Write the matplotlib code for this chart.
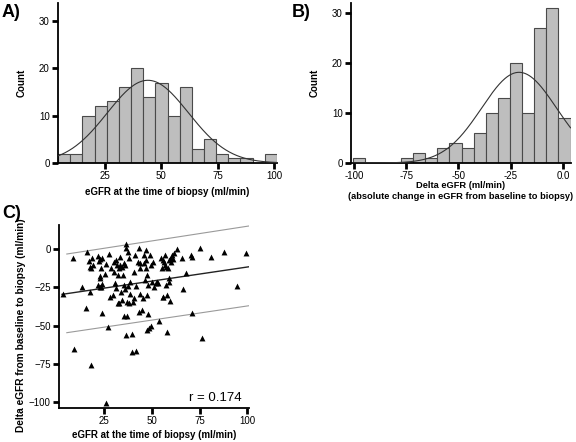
import matplotlib.pyplot as plt
import numpy as np

plt.rcParams['font.family'] = ['Liberation Sans', 'DejaVu Sans']

# panel A: eGFR at biopsy histogram
a_counts = [2, 2, 10, 12, 13, 16, 20, 14, 17, 10, 16, 3, 5, 2, 1, 1, 0, 2]
a_bin_start = 4.1
a_bin_width = 5.4
a_mean, a_sd = 44.0, 18.0

# panel B: delta eGFR histogram
b_counts = [1, 0, 0, 0, 1, 2, 1, 3, 4, 3, 6, 10, 13, 20, 10, 27, 31, 9]
b_bin_start = -100.6
b_bin_width = 5.79
b_mean, b_sd = -21.0, 17.9

# panel C: scatter of eGFR vs delta eGFR
c_x = [3.5, 8.5, 9.3, 13.2, 15.3, 15.8, 16.7, 17.3, 17.6, 18.0, 18.5, 18.1, 19.0,
       21.5, 21.8, 22.2, 22.7, 23.2, 22.9, 23.4, 23.8, 22.9, 22.5, 24.0, 23.8, 25.2,
       26.0, 26.8, 25.7, 27.3, 28.2, 28.7, 29.6, 30.0, 30.3, 30.5, 31.2, 31.7, 31.3,
       32.0, 32.2, 32.6, 32.7, 33.1, 33.5, 33.8, 34.2, 34.5, 34.9, 35.2, 35.6, 35.7,
       35.4, 35.9, 36.3, 36.6, 37.0, 37.0, 36.6, 37.3, 37.7, 38.0, 38.4, 37.9, 38.7,
       39.3, 39.8, 40.1, 40.5, 40.8, 41.2, 41.5, 41.9, 42.6, 43.1, 43.1, 43.7, 44.0,
       44.0, 44.9, 45.4, 45.8, 46.1, 46.3, 46.7, 46.8, 47.0, 47.4, 47.5, 47.9, 48.2,
       47.5, 48.4, 48.9, 49.3, 49.6, 50.2, 50.7, 51.1, 51.9, 52.8, 53.3, 53.9, 54.6,
       55.3, 55.6, 55.8, 56.0, 56.3, 56.7, 56.9, 57.2, 57.4, 57.7, 58.1, 58.5, 58.8,
       59.0, 59.2, 59.5, 59.5, 59.9, 60.2, 60.7, 61.3, 61.6, 63.4, 65.7, 66.5, 67.8,
       70.4, 71.0, 70.8, 75.4, 76.4, 81.3, 88.0, 94.5, 99.5]
c_y = [-29.5, -5.5, -65.5, -24.5, -38.6, -2.0, -7.6, -27.7, -11.4, -76.0, -5.5, -12.4, -10.3,
       -4.1, -23.4, -7.6, -6.6, -12.4, -19.0, -24.5, -41.5, -17.2, -24.5, -5.5, -22.7, -16.4,
       -9.8, -50.7, -100.9, -3.3, -31.0, -12.4, -29.9, -8.0, -14.6, -22.3, -7.0, -10.3, -25.5,
       -35.4, -16.8, -12.4, -35.4, -4.8, -10.3, -28.2, -33.2, -11.4, -16.8, -9.2, -23.4, -26.0,
       -43.7, -10.3, 3.5, 0.7, -34.3, -43.7, -56.1, -24.0, -1.5, -5.9, -29.5, -35.4, -21.2,
       -67.0, -55.5, -34.7, -14.6, -32.1, -3.7, -24.0, -66.6, -8.0, 0.7, -40.8, -12.4, -9.2,
       -29.5, -39.7, -32.1, -9.2, -3.7, -20.1, -0.4, -7.0, -12.4, -16.8, -29.9, -23.4, -42.4,
       -52.8, -51.7, -3.7, -10.3, -50.2, -21.2, -8.0, -24.5, -22.3, -21.2, -22.3, -46.9, -5.9,
       -12.4, -31.0, -7.0, -31.0, -8.0, -10.3, -3.7, -23.4, -11.4, -53.9, -29.9, -12.4, -7.0,
       -19.0, -21.2, -33.8, -6.3, -8.0, -5.9, -3.7, -6.6, -2.6, 0.0, -5.5, -26.0, -15.7,
       -3.7, -4.8, -41.5, 0.7, -58.3, -4.8, -2.0, -23.8, -2.6]
fit_x = [2.8, 101.2]
fit_y = [-29.5, -11.4]
band_x = [5.3, 101.2]
band_upper = [-3.1, 15.3]
band_lower = [-54.6, -36.9]
r_value = 0.174

bar_face = '#bebebe'
bar_edge = '#4a4a4a'


def style_axis(ax):
    for side in ['top', 'right']:
        ax.spines[side].set_visible(False)
    for side in ['left', 'bottom']:
        ax.spines[side].set_linewidth(1.3)
    ax.tick_params(direction='out', length=4, width=2, labelsize=7, pad=2)


def histogram(ax, counts, start, width, mean, sd):
    counts = np.array(counts)
    lefts = start + width * np.arange(len(counts))
    ax.bar(lefts, counts, width=width, align='edge', color=bar_face,
           edgecolor=bar_edge, linewidth=0.8, zorder=2)
    xs = np.linspace(start, start + width * len(counts), 300)
    scale = counts.sum() * width / (sd * np.sqrt(2 * np.pi))
    ax.plot(xs, scale * np.exp(-0.5 * ((xs - mean) / sd) ** 2),
            color='#333333', linewidth=0.8, zorder=3)


fig = plt.figure(figsize=(5.76, 4.42), dpi=100)

# A
ax = fig.add_axes([58 / 576, 1 - 163 / 442, 219 / 576, 160 / 442])
histogram(ax, a_counts, a_bin_start, a_bin_width, a_mean, a_sd)
ax.set_xlim(4.1, 101.3)
ax.set_ylim(0, 33.8)
ax.set_xticks([25, 50, 75, 100])
ax.set_yticks([0, 10, 20, 30])
style_axis(ax)
ax.set_xlabel('eGFR at the time of biopsy (ml/min)', fontsize=7, fontweight='bold', labelpad=4)
ax.set_ylabel('Count', fontsize=7, fontweight='bold', labelpad=9)

# B
ax = fig.add_axes([351 / 576, 1 - 163 / 442, 219.7 / 576, 160 / 442])
histogram(ax, b_counts, b_bin_start, b_bin_width, b_mean, b_sd)
ax.set_xlim(-101.4, 3.7)
ax.set_ylim(0, 32.1)
ax.set_xticks([-100, -75, -50, -25, 0])
ax.set_xticklabels(['-100', '-75', '-50', '-25', '0.0'])
ax.set_yticks([0, 10, 20, 30])
style_axis(ax)
ax.set_xlabel('Delta eGFR (ml/min)\n(absolute change in eGFR from baseline to biopsy)',
              fontsize=6.7, fontweight='bold', labelpad=0, linespacing=1.2)
ax.set_ylabel('Count', fontsize=7, fontweight='bold', labelpad=9)

# C
ax = fig.add_axes([59 / 576, 1 - 407.7 / 442, 190 / 576, 182.7 / 442])
ax.plot(band_x, band_upper, color='#9a9a9a', linewidth=0.8)
ax.plot(band_x, band_lower, color='#9a9a9a', linewidth=0.8)
ax.plot(fit_x, fit_y, color='#222222', linewidth=1.0)
ax.scatter(c_x, c_y, marker='^', s=18, color='black', linewidths=0, zorder=3)
ax.set_xlim(1.2, 101)
ax.set_ylim(-103.7, 15.9)
ax.set_xticks([25, 50, 75, 100])
ax.set_yticks([0, -25, -50, -75, -100])
style_axis(ax)
ax.set_xlabel('eGFR at the time of biopsy (ml/min)', fontsize=7, fontweight='bold', labelpad=3)
ax.set_ylabel('Delta eGFR from baseline to biopsy (ml/min)', fontsize=7.3, fontweight='bold')
ax.yaxis.set_label_coords(-33 / 190, 0.45)
ax.text(0.96, 0.02, 'r = %.3f' % r_value, transform=ax.transAxes, ha='right',
        va='bottom', fontsize=9.5)

fig.text(2 / 576, 1 - 4 / 442, 'A)', fontsize=13, fontweight='bold', va='top')
fig.text(292 / 576, 1 - 4 / 442, 'B)', fontsize=13, fontweight='bold', va='top')
fig.text(2 / 576, 1 - 205 / 442, 'C)', fontsize=13, fontweight='bold', va='top')

fig.savefig('out.png', dpi=100)
